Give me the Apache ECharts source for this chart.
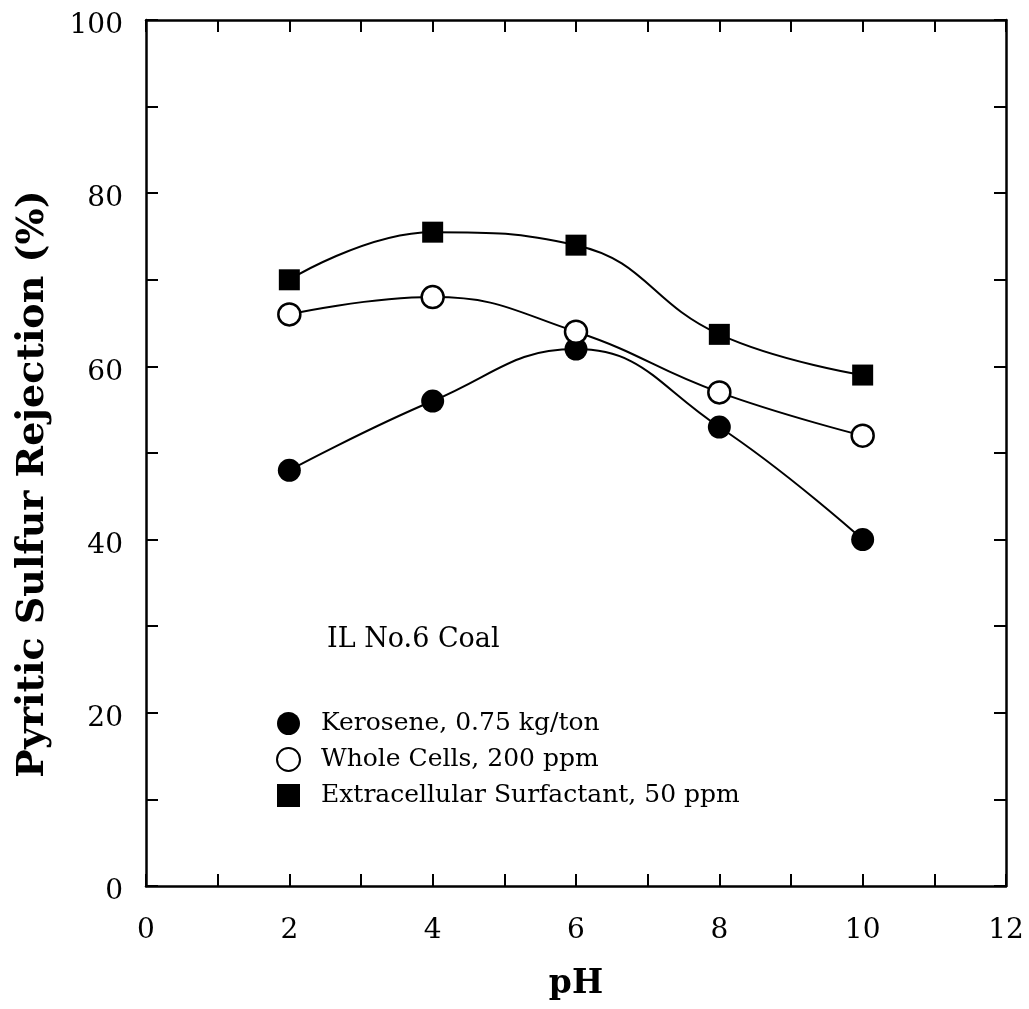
<!DOCTYPE html>
<html>
<head>
<meta charset="utf-8">
<script src="https://cdn.jsdelivr.net/npm/echarts@6/dist/echarts.min.js"></script>
<style>
  html, body { margin: 0; padding: 0; background: #fff; }
  #chart { width: 1029px; height: 1009px; }
</style>
</head>
<body>
<div id="chart"></div>
<script>
// pH values at which flotation was run
const phValues = [2, 4, 6, 8, 10];

// Pyritic sulfur rejection (%) for each collector
const kerosene = [48, 56, 62, 53, 40];
const wholeCells = [66, 68, 64, 57, 52];
const extracellular = [70, 75.5, 74, 63.7, 59];

const seriesNames = [
  'Kerosene, 0.75 kg/ton',
  'Whole Cells, 200 ppm',
  'Extracellular Surfactant, 50 ppm'
];

const xLabels = ['0', '2', '4', '6', '8', '10', '12'];
const yLabels = ['0', '20', '40', '60', '80', '100'];

const FONT = 'DejaVu Serif';

function pairs(ys) {
  return phValues.map((x, i) => [x, ys[i]]);
}

const chart = echarts.init(document.getElementById('chart'), null, { renderer: 'canvas' });

const tickCommon = { show: true, inside: true, length: 12, lineStyle: { color: '#000', width: 2 } };
const lineCommon = { show: true, onZero: false, lineStyle: { color: '#000', width: 2.5 } };

chart.setOption({
  backgroundColor: '#fff',
  animation: false,
  title: {
    text: 'IL No.6 Coal',
    left: 322,
    top: 620,
    textStyle: { fontFamily: FONT, fontWeight: 'normal', fontSize: 27, lineHeight: 30, color: '#000' }
  },
  legend: {
    orient: 'vertical',
    left: 271,
    top: 706,
    itemWidth: 23,
    itemHeight: 23,
    itemGap: 11,
    selectedMode: false,
    textStyle: { fontFamily: FONT, fontSize: 25, lineHeight: 23, color: '#000', padding: [0, 0, 0, 16] },
    data: [
      { name: seriesNames[0], icon: 'circle', itemStyle: { color: '#000' } },
      { name: seriesNames[1], icon: 'emptyCircle', itemStyle: { color: '#000', borderColor: '#000', borderWidth: 2.5 } },
      { name: seriesNames[2], icon: 'rect', itemStyle: { color: '#000' } }
    ]
  },
  grid: { left: 146, top: 20, right: 23, bottom: 123, containLabel: false },
  xAxis: [
    {
      type: 'value', min: 0, max: 12, interval: 1, position: 'bottom',
      name: 'pH', nameLocation: 'middle', nameGap: 82,
      nameTextStyle: { fontFamily: FONT, fontWeight: 'bold', fontSize: 33, color: '#000' },
      axisLine: lineCommon, axisTick: tickCommon, splitLine: { show: false },
      axisLabel: {
        margin: 31, fontFamily: FONT, fontSize: 28, color: '#000',
        formatter: v => (v % 2 === 0 ? xLabels[v / 2] : '')
      }
    },
    {
      type: 'value', min: 0, max: 12, interval: 1, position: 'top',
      axisLine: lineCommon, axisTick: tickCommon, splitLine: { show: false },
      axisLabel: { show: false }
    }
  ],
  yAxis: [
    {
      type: 'value', min: 0, max: 100, interval: 10, position: 'left',
      name: 'Pyritic Sulfur Rejection (%)', nameLocation: 'middle', nameGap: 94,
      nameTextStyle: {
        fontFamily: FONT, fontWeight: 'bold', fontSize: 38, color: '#000',
        padding: [0, 62, 0, 0]
      },
      axisLine: lineCommon, axisTick: tickCommon, splitLine: { show: false },
      axisLabel: {
        margin: 23, color: '#000',
        formatter: v => (v % 20 === 0 ? '{v|' + yLabels[v / 20] + '}' : ''),
        rich: {
          v: { fontFamily: FONT, fontSize: 28, color: '#000', padding: [12, 0, 0, 0] }
        }
      }
    },
    {
      type: 'value', min: 0, max: 100, interval: 10, position: 'right',
      axisLine: lineCommon, axisTick: tickCommon, splitLine: { show: false },
      axisLabel: { show: false }
    }
  ],
  series: [
    {
      name: seriesNames[0], type: 'line', data: pairs(kerosene), smooth: 0.45,
      symbol: 'circle', symbolSize: 23,
      lineStyle: { color: '#000', width: 2 },
      itemStyle: { color: '#000', borderColor: '#000', borderWidth: 0 }
    },
    {
      name: seriesNames[1], type: 'line', data: pairs(wholeCells), smooth: 0.45,
      symbol: 'circle', symbolSize: 22,
      lineStyle: { color: '#000', width: 2 },
      itemStyle: { color: '#fff', borderColor: '#000', borderWidth: 2.5 }
    },
    {
      name: seriesNames[2], type: 'line', data: pairs(extracellular), smooth: 0.45,
      symbol: 'rect', symbolSize: 21,
      lineStyle: { color: '#000', width: 2 },
      itemStyle: { color: '#000', borderColor: '#000', borderWidth: 0 }
    }
  ]
});
</script>
</body>
</html>
